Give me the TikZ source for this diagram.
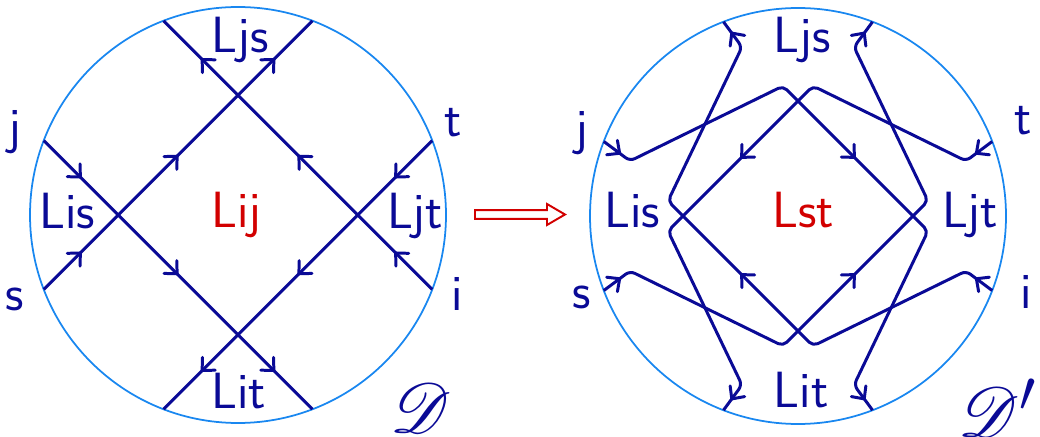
\documentclass[tikz,border=0pt]{standalone}
\usepackage{mathrsfs}
\usetikzlibrary{arrows.meta, decorations.markings}

\definecolor{rim}{RGB}{25,135,240}
\definecolor{ink}{RGB}{10,10,150}
\definecolor{hot}{RGB}{210,0,0}

\tikzset{
  barb/.tip={Straight Barb[length=1.9mm, width=3.6mm, round]},
  strand/.style={ink, line width=1.7pt, line join=round},
  flow/.style={postaction={decorate}, decoration={markings,
      mark=at position 0.14 with {\arrow{barb}},
      mark=at position 0.5 with {\arrow{barb}},
      mark=at position 0.86 with {\arrow{barb}}}},
  arrowat/.style={decorate, decoration={markings,
      mark=at position #1 with {\arrow[ink, line width=1.7pt]{barb}}}},
  lbl/.style={ink, font=\fontsize{29}{29}\sffamily, anchor=base, inner sep=0pt},
}

\begin{document}
\begin{tikzpicture}[x=0.02cm, y=0.02cm]
  \useasboundingbox (0,0) rectangle (1040,436);
  % --- Disk D: four straight strands ---
  \begin{scope}[shift={(238,221)}]
    \draw[rim, line width=1pt] (0,0) circle (208);
    \coordinate (a-j) at (159:208);
    \coordinate (a-s) at (201:208);
    \coordinate (a-t) at (21:208);
    \coordinate (a-i) at (-21:208);
    \coordinate (a-ul) at (111:208);
    \coordinate (a-ur) at (69:208);
    \coordinate (a-ll) at (249:208);
    \coordinate (a-lr) at (291:208);
    \draw[strand, flow] (a-j) -- (a-lr);
    \draw[strand, flow] (a-s) -- (a-ur);
    \draw[strand, flow] (a-t) -- (a-ll);
    \draw[strand, flow] (a-i) -- (a-ul);
  \end{scope}
  % --- Disk D': resolved strands ---
  \begin{scope}[shift={(798,220)}]
    \draw[rim, line width=1pt] (0,0) circle (208);
    \coordinate (b-j) at (159:208);
    \coordinate (b-s) at (201:208);
    \coordinate (b-t) at (21:208);
    \coordinate (b-i) at (-21:208);
    \coordinate (b-ul) at (111:208);
    \coordinate (b-ur) at (69:208);
    \coordinate (b-ll) at (249:208);
    \coordinate (b-lr) at (291:208);
    \coordinate (b-jc) at (-168,55);
    \coordinate (b-sc) at (-168,-55);
    \coordinate (b-tc) at (168,55);
    \coordinate (b-ic) at (168,-55);
    \coordinate (b-tl) at (-15,130);
    \coordinate (b-tr) at (15,130);
    \coordinate (b-bl) at (-15,-130);
    \coordinate (b-br) at (15,-130);
    \coordinate (b-lu) at (-130,15);
    \coordinate (b-ld) at (-130,-15);
    \coordinate (b-ru) at (130,15);
    \coordinate (b-rd) at (130,-15);
    \coordinate (b-eul) at (-56,169);
    \coordinate (b-eur) at (56,169);
    \coordinate (b-ell) at (-56,-169);
    \coordinate (b-elr) at (56,-169);
    \foreach \p/\q/\r/\u/\v/\w in {j/jc/tl/rd/elr/lr, s/sc/bl/ru/eur/ur,
                                   t/tc/tr/ld/ell/ll, i/ic/br/lu/eul/ul} {
      \draw[strand, rounded corners=3pt]
        (b-\p) -- (b-\q) -- (b-\r) -- (b-\u) -- (b-\v) -- (b-\w);
      \path[arrowat=0.65] (b-\p) -- (b-\q);
      \path[arrowat=0.5] (b-\r) -- (b-\u);
      \path[arrowat=0.6] (b-\v) -- (b-\w);
    }
  \end{scope}
  % --- Arrow between the disks ---
  \draw[hot, line width=1.1pt, fill=white]
    (475,217.2) -- (547,217.2) -- (547,211) -- (565,221.5) --
    (547,232) -- (547,225.8) -- (475,225.8) -- cycle;
  % --- Labels of D ---
  \node[lbl] (lj) at (15,292) {j};
  \node[lbl] (ls) at (15,126) {s};
  \node[lbl] (lt) at (453,299) {t};
  \node[lbl] (li) at (457,126) {i};
  \node[lbl] (ljs) at (240,383) {Ljs};
  \node[lbl] (lis) at (67.5,207) {Lis};
  \node[lbl, hot] (lij) at (236.5,208) {Lij};
  \node[lbl] (ljt) at (415,207) {Ljt};
  \node[lbl] (lit) at (239,28) {Lit};
  \node[ink, font=\Huge] (dl) at (421,28) {\scalebox{1.6}{$\mathscr{D}$}};
  % --- Labels of D' ---
  \node[lbl] (rj) at (582,291) {j};
  \node[lbl] (rs) at (582,128) {s};
  \node[lbl] (rt) at (1023,301) {t};
  \node[lbl] (ri) at (1026,128) {i};
  \node[lbl] (rjs) at (802,383) {Ljs};
  \node[lbl] (ris) at (632,208) {Lis};
  \node[lbl, hot] (rst) at (803,208) {Lst};
  \node[lbl] (rjt) at (970,208) {Ljt};
  \node[lbl] (rit) at (801,29) {Lit};
  \node[ink, font=\Huge] (dr) at (998,28) {\scalebox{1.6}{$\mathscr{D}'$}};
\end{tikzpicture}
\end{document}
